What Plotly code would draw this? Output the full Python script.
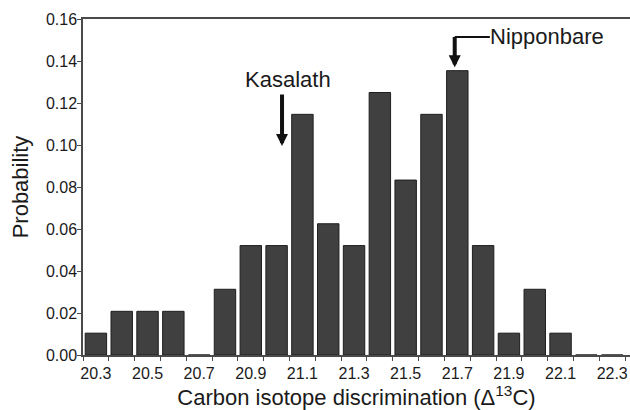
import plotly.graph_objects as go

# Data
delta13c = [20.3, 20.4, 20.5, 20.6, 20.7, 20.8, 20.9, 21.0, 21.1, 21.2, 21.3,
            21.4, 21.5, 21.6, 21.7, 21.8, 21.9, 22.0, 22.1, 22.2, 22.3]
probability = [0.0104, 0.0208, 0.0208, 0.0208, 0.0, 0.0313, 0.0521, 0.0521,
               0.1146, 0.0625, 0.0521, 0.1250, 0.0833, 0.1146, 0.1354, 0.0521,
               0.0104, 0.0313, 0.0104, 0.0, 0.0]
x_tick_vals = [20.3, 20.5, 20.7, 20.9, 21.1, 21.3, 21.5, 21.7, 21.9, 22.1, 22.3]
x_tick_text = ["20.3", "20.5", "20.7", "20.9", "21.1", "21.3", "21.5", "21.7", "21.9", "22.1", "22.3"]
y_tick_vals = [0.0, 0.02, 0.04, 0.06, 0.08, 0.10, 0.12, 0.14, 0.16]

FONT = "Liberation Sans, Arial, Helvetica, sans-serif"
AXIS_COLOR = "#4a4a4a"
TEXT_COLOR = "#1a1a1a"

fig = go.Figure()
fig.add_trace(go.Bar(
    x=delta13c, y=probability,
    marker=dict(color="#404040", line=dict(color="#1e1e1e", width=1)),
    hoverinfo="x+y",
))

fig.update_layout(
    width=630, height=410,
    margin=dict(l=83, r=0, t=19, b=55, pad=0),
    paper_bgcolor="white", plot_bgcolor="white",
    bargap=0.17,
    showlegend=False,
    font=dict(family=FONT, color=TEXT_COLOR),
)

fig.update_xaxes(
    automargin=False,
    range=[20.25, 22.369],
    tickmode="array", tickvals=x_tick_vals, ticktext=x_tick_text,
    ticks="outside", ticklen=0, tickcolor=AXIS_COLOR,
    ticklabelstandoff=3,
    minor=dict(tick0=20.25, dtick=0.1, ticks="outside", ticklen=4,
               tickcolor=AXIS_COLOR, tickwidth=1, showgrid=False),
    tickfont=dict(size=16, family=FONT, color=TEXT_COLOR),
    showline=True, linecolor=AXIS_COLOR, linewidth=1.5, mirror=True,
    showgrid=False, zeroline=False,
    title=dict(text="Carbon isotope discrimination (\u0394<sup>13</sup>C)",
               font=dict(size=22, family=FONT, color=TEXT_COLOR), standoff=5),
)

fig.update_yaxes(
    automargin=False,
    range=[0, 0.16],
    tickmode="array", tickvals=y_tick_vals, tickformat=".2f",
    ticks="outside", ticklen=4, tickcolor=AXIS_COLOR,
    ticklabelstandoff=-3,
    tickfont=dict(size=16, family=FONT, color=TEXT_COLOR),
    showline=True, linecolor=AXIS_COLOR, linewidth=1.5,
    showgrid=False, zeroline=False,
    title=dict(text="Probability", font=dict(size=22, family=FONT, color=TEXT_COLOR),
               standoff=11),
)

# Kasalath label and arrow
fig.add_annotation(x=21.045, y=0.1312, text="Kasalath", showarrow=False,
                   font=dict(size=22, family=FONT, color=TEXT_COLOR),
                   xanchor="center", yanchor="middle")
fig.add_annotation(x=21.021, y=0.0995, ax=21.021, ay=0.1248, axref="x", ayref="y",
                   text="", showarrow=True, arrowhead=2, arrowsize=0.6,
                   arrowwidth=4, arrowcolor="#111111")

# Nipponbare label and arrow
fig.add_annotation(x=21.82, y=0.1517, text="Nipponbare", showarrow=False,
                   font=dict(size=22, family=FONT, color=TEXT_COLOR),
                   xanchor="left", yanchor="middle")
fig.add_shape(type="line", x0=21.69, x1=21.826, y0=0.1514, y1=0.1514,
              xref="x", yref="y", line=dict(color="#111111", width=2))
fig.add_annotation(x=21.69, y=0.137, ax=21.69, ay=0.1522, axref="x", ayref="y",
                   text="", showarrow=True, arrowhead=2, arrowsize=0.6,
                   arrowwidth=4, arrowcolor="#111111")

fig.write_html(
    "out.html",
    config={"displayModeBar": False},
    post_script="document.body.style.margin='0';document.body.style.overflow='hidden';",
)
